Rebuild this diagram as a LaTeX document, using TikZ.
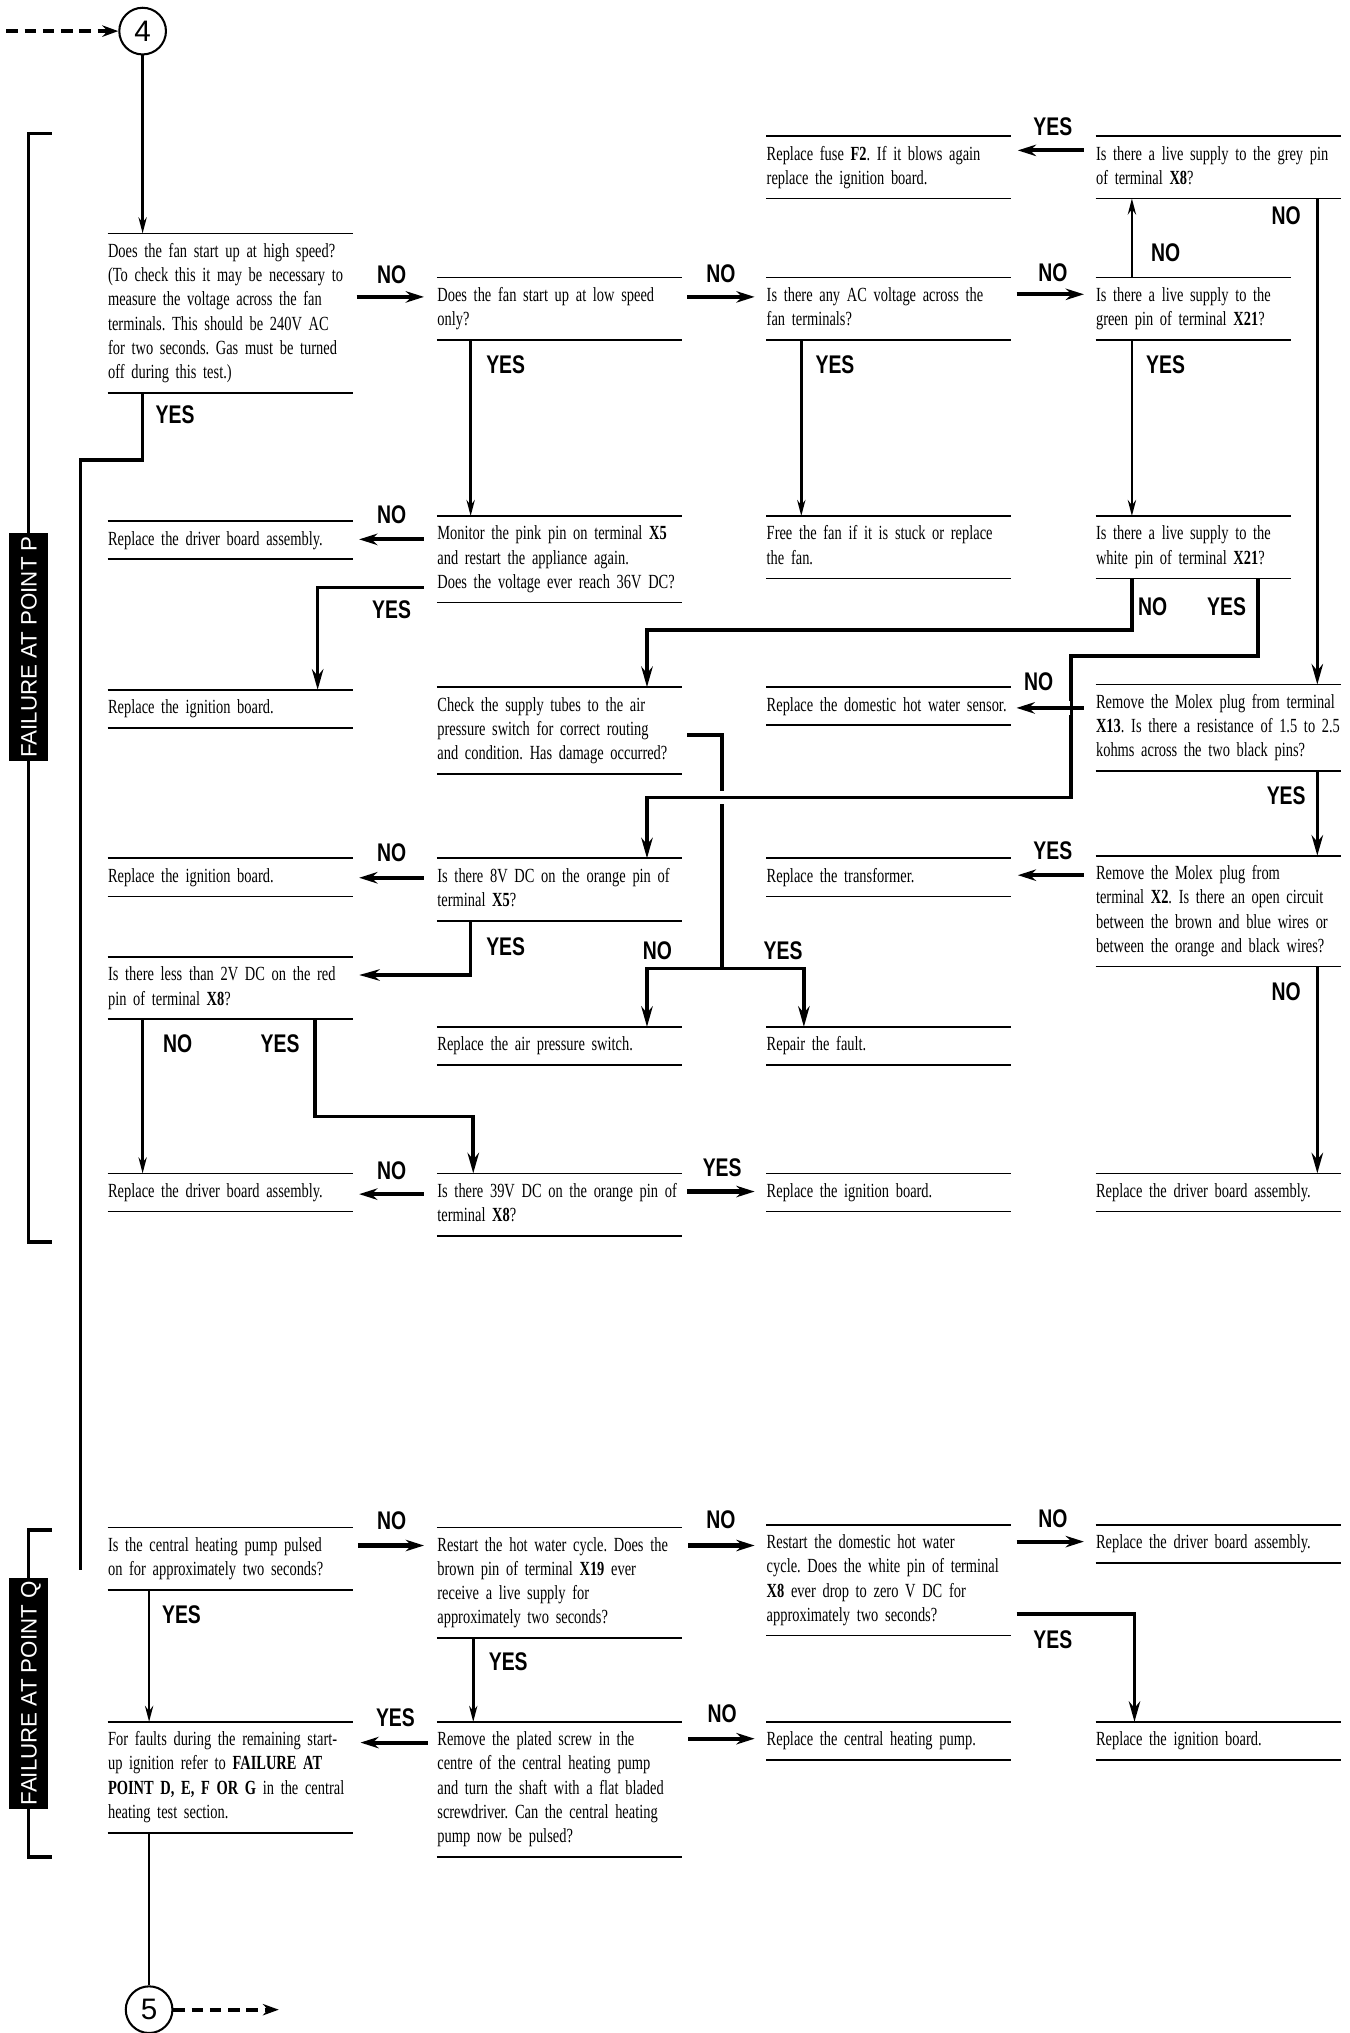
\documentclass[tikz,border=0pt]{standalone}
\usepackage{fontspec}
\setmainfont{Liberation Serif}[FakeStretch=0.72]
\newfontfamily\ynfam{Liberation Sans}[FakeStretch=0.76]
\newfontfamily\sansfam{Liberation Sans}
\usetikzlibrary{arrows.meta}
\newcommand\bodyfont{\fontsize{8.8}{10.64}\selectfont\frenchspacing}
\newcommand\ynfont{\ynfam\bfseries\fontsize{11.2}{12}\selectfont}
\newcommand\tagfont{\sansfam\fontsize{9.8}{10}\selectfont}
\newcommand\numfont{\sansfam\fontsize{13}{14}\selectfont}
\begin{document}
\begin{tikzpicture}[line join=miter,
  box/.style={anchor=north west,align=left,text width=4.6cm,inner xsep=0pt,inner ysep=0.1cm,
    font=\bodyfont,execute at begin node=\noindent\strut,execute at end node=\strut},
  yn/.style={font=\ynfont,inner sep=0pt},
  tag/.style={fill=black,text=white,rotate=90,font=\tagfont,inner xsep=1.5pt,inner ysep=5pt,
    text height=7pt,text depth=0pt},
  numc/.style={circle,draw,line width=0.9pt,minimum size=0.72cm,inner sep=0pt,font=\numfont},
  rule/.style={line width=0.75pt},
  down/.style={line width=1.1pt,-{Stealth[length=7pt,width=3.6pt]}},
  harrow/.style={line width=1.8pt,-{Stealth[length=8pt,width=5pt]}},
  route/.style={line width=1.6pt},
  routearrow/.style={route,-{Stealth[length=9pt,width=5pt]}},
  dasharrow/.style={line width=1.6pt,dash pattern=on 5pt off 3pt,-{Stealth[length=7pt,width=5pt]}},
  gap/.style={preaction={draw=white,line width=6pt,-,shorten <=6pt,shorten >=12pt}}]
  \useasboundingbox (0,0) rectangle (20.82,-31.36);

  \node[numc] (n4) at (2.20,-0.48) {4};
  \node[numc] (n5) at (2.30,-31.00) {5};
  \coordinate (in4) at (0.10,-0.48);
  \coordinate (out5) at (4.30,-31.00);
  \coordinate (spine) at (1.24,-7.10);
  \coordinate (qend) at (1.24,-24.22);
  \coordinate (split) at (11.14,-14.94);

  \draw[route] (0.80,-2.06) -| (0.44,-19.16) -- (0.80,-19.16);
  \draw[route] (0.80,-23.60) -| (0.44,-28.64) -- (0.80,-28.64);
  \node[tag] (tagp) at (0.44,-9.98) {FAILURE AT POINT P};
  \node[tag] (tagq) at (0.44,-26.12) {FAILURE AT POINT Q};

  \node[box] (grey) at (16.90,-2.10) {Is there a live supply to the grey pin\\of terminal \textbf{X8}?};
  \node[box] (fuse) at (11.82,-2.10) {Replace fuse \textbf{F2}. If it blows again\\replace the ignition board.};
  \node[box] (fanhigh) at (1.66,-3.60) {Does the fan start up at high speed?\\(To check this it may be necessary to\\measure the voltage across the fan\\terminals. This should be 240V AC\\for two seconds. Gas must be turned\\off during this test.)};
  \node[box] (fanlow) at (6.74,-4.28) {Does the fan start up at low speed\\only?};
  \node[box] (acvolt) at (11.82,-4.28) {Is there any AC voltage across the\\fan terminals?};
  \node[box] (green) at (16.90,-4.28) {Is there a live supply to the\\green pin of terminal \textbf{X21}?};
  \node[box] (driverA) at (1.66,-8.04) {Replace the driver board assembly.};
  \node[box] (monitor) at (6.74,-7.96) {Monitor the pink pin on terminal \textbf{X5}\\and restart the appliance again.\\Does the voltage ever reach 36V DC?};
  \node[box] (freefan) at (11.82,-7.96) {Free the fan if it is stuck or replace\\the fan.};
  \node[box] (white) at (16.90,-7.96) {Is there a live supply to the\\white pin of terminal \textbf{X21}?};
  \node[box] (ignA) at (1.66,-10.64) {Replace the ignition board.};
  \node[box] (tubes) at (6.74,-10.60) {Check the supply tubes to the air\\pressure switch for correct routing\\and condition. Has damage occurred?};
  \node[box] (sensor) at (11.82,-10.60) {Replace the domestic hot water sensor.};
  \node[box] (molexA) at (16.90,-10.56) {Remove the Molex plug from terminal\\\textbf{X13}. Is there a resistance of 1.5 to 2.5\\kohms across the two black pins?};
  \node[box] (ignB) at (1.66,-13.24) {Replace the ignition board.};
  \node[box] (orange) at (6.74,-13.24) {Is there 8V DC on the orange pin of\\terminal \textbf{X5}?};
  \node[box] (transf) at (11.82,-13.24) {Replace the transformer.};
  \node[box] (molexB) at (16.90,-13.20) {Remove the Molex plug from\\terminal \textbf{X2}. Is there an open circuit\\between the brown and blue wires or\\between the orange and black wires?};
  \node[box] (red) at (1.66,-14.76) {Is there less than 2V DC on the red\\pin of terminal \textbf{X8}?};
  \node[box] (apswitch) at (6.74,-15.84) {Replace the air pressure switch.};
  \node[box] (repair) at (11.82,-15.84) {Repair the fault.};
  \node[box] (driverB) at (1.66,-18.10) {Replace the driver board assembly.};
  \node[box] (volt39) at (6.74,-18.10) {Is there 39V DC on the orange pin of\\terminal \textbf{X8}?};
  \node[box] (ignC) at (11.82,-18.10) {Replace the ignition board.};
  \node[box] (driverC) at (16.90,-18.10) {Replace the driver board assembly.};

  \node[box] (pump) at (1.66,-23.56) {Is the central heating pump pulsed\\on for approximately two seconds?};
  \node[box] (hotwater) at (6.74,-23.56) {Restart the hot water cycle. Does the\\brown pin of terminal \textbf{X19} ever\\receive a live supply for\\approximately two seconds?};
  \node[box] (dhw) at (11.82,-23.52) {Restart the domestic hot water\\cycle. Does the white pin of terminal\\\textbf{X8} ever drop to zero V DC for\\approximately two seconds?};
  \node[box] (driverQ) at (16.90,-23.52) {Replace the driver board assembly.};
  \node[box] (faults) at (1.66,-26.56) {For faults during the remaining start-\\up ignition refer to \textbf{FAILURE AT}\\\textbf{POINT D, E, F OR G} in the central\\heating test section.};
  \node[box] (screw) at (6.74,-26.56) {Remove the plated screw in the\\centre of the central heating pump\\and turn the shaft with a flat bladed\\screwdriver. Can the central heating\\pump now be pulsed?};
  \node[box] (pumprep) at (11.82,-26.56) {Replace the central heating pump.};
  \node[box] (ignQ) at (16.90,-26.56) {Replace the ignition board.};

  \foreach \n/\w in {grey/3.78,fuse/3.78,fanhigh/3.78,fanlow/3.78,acvolt/3.78,green/3.02,
    driverA/3.78,monitor/3.78,freefan/3.78,white/3.02,ignA/3.78,tubes/3.78,sensor/3.78,
    molexA/3.78,ignB/3.78,orange/3.78,transf/3.78,molexB/3.78,red/3.78,apswitch/3.78,
    repair/3.78,driverB/3.78,volt39/3.78,ignC/3.78,driverC/3.78,pump/3.78,hotwater/3.78,
    dhw/3.78,driverQ/3.78,faults/3.78,screw/3.78,pumprep/3.78,ignQ/3.78}
    \draw[rule] (\n.north west) -- ++(\w,0) (\n.south west) -- ++(\w,0);

  \draw[dasharrow] (in4) -- (n4.west);
  \draw[down] (n4.south) -- (n4 |- fanhigh.north);
  \draw[route] (n4 |- fanhigh.south) |- (spine) -- (qend);
  \draw[harrow] ([xshift=3.84cm,yshift=-0.30cm]fanhigh.north west |- fanlow.north) -- ([xshift=-0.20cm,yshift=-0.30cm]fanlow.north west);
  \draw[harrow] ([xshift=3.86cm,yshift=-0.30cm]fanlow.north west) -- ([xshift=-0.18cm,yshift=-0.30cm]acvolt.north west);
  \draw[harrow] ([xshift=3.86cm,yshift=-0.26cm]acvolt.north west) -- ([xshift=-0.18cm,yshift=-0.26cm]green.north west);
  \draw[down] ([xshift=0.56cm]green.north west) -- ([xshift=0.56cm]grey.south west);
  \draw[harrow] ([xshift=-0.18cm,yshift=-0.22cm]grey.north west) -- ([xshift=3.88cm,yshift=-0.22cm]fuse.north west);
  \draw[routearrow] ([xshift=3.42cm]grey.south west) -- ([xshift=3.42cm]molexA.north west);
  \draw[down] ([xshift=0.52cm]fanlow.south west) -- ([xshift=0.52cm]monitor.north west);
  \draw[down] ([xshift=0.54cm]acvolt.south west) -- ([xshift=0.54cm]freefan.north west);
  \draw[down] ([xshift=0.56cm]green.south west) -- ([xshift=0.56cm]white.north west);
  \draw[harrow] ([xshift=-0.20cm,yshift=-0.28cm]monitor.north west |- driverA.north) -- ([xshift=3.88cm,yshift=-0.28cm]driverA.north west);
  \draw[routearrow] ([xshift=-0.20cm,yshift=-1.10cm]monitor.north west) -| ([xshift=3.24cm]ignA.north west);
  \draw[routearrow] ([xshift=0.56cm]white.south west) -- ++(0,-0.80) -| ([xshift=3.24cm]tubes.north west);
  \draw[routearrow] ([xshift=3.86cm,yshift=-0.74cm]tubes.north west) -| (split) -| ([xshift=3.24cm]apswitch.north west);
  \draw[routearrow] (split) -| ([xshift=0.58cm]repair.north west);
  \draw[routearrow,gap] ([xshift=2.50cm]white.south west) -- ++(0,-1.20) -| ([xshift=-0.38cm,yshift=-1.74cm]molexA.north west) -| ([xshift=3.24cm]orange.north west);
  \draw[harrow,gap] ([xshift=-0.18cm,yshift=-0.32cm]molexA.north west |- sensor.north) -- ([xshift=3.86cm,yshift=-0.32cm]sensor.north west);
  \draw[routearrow] ([xshift=3.42cm]molexA.south west) -- ([xshift=3.42cm]molexB.north west);
  \draw[harrow] ([xshift=-0.18cm,yshift=-0.26cm]molexB.north west |- transf.north) -- ([xshift=3.88cm,yshift=-0.26cm]transf.north west);
  \draw[routearrow] ([xshift=3.42cm]molexB.south west) -- ([xshift=3.42cm]driverC.north west);
  \draw[harrow] ([xshift=-0.20cm,yshift=-0.30cm]orange.north west) -- ([xshift=3.88cm,yshift=-0.30cm]ignB.north west);
  \draw[routearrow] ([xshift=0.52cm]orange.south west) |- ([xshift=3.88cm,yshift=-0.28cm]red.north west);
  \draw[down] ([xshift=0.54cm]red.south west) -- ([xshift=0.54cm]driverB.north west);
  \draw[routearrow] ([xshift=3.20cm]red.south west) -- ++(0,-1.50) -| ([xshift=0.56cm]volt39.north west);
  \draw[harrow] ([xshift=-0.20cm,yshift=-0.32cm]volt39.north west) -- ([xshift=3.88cm,yshift=-0.32cm]driverB.north west);
  \draw[harrow] ([xshift=3.86cm,yshift=-0.28cm]volt39.north west) -- ([xshift=-0.18cm,yshift=-0.28cm]ignC.north west);

  \draw[harrow] ([xshift=3.86cm,yshift=-0.28cm]pump.north west) -- ([xshift=-0.20cm,yshift=-0.28cm]hotwater.north west);
  \draw[harrow] ([xshift=3.88cm,yshift=-0.32cm]hotwater.north west |- dhw.north) -- ([xshift=-0.18cm,yshift=-0.32cm]dhw.north west);
  \draw[harrow] ([xshift=3.86cm,yshift=-0.26cm]dhw.north west) -- ([xshift=-0.18cm,yshift=-0.26cm]driverQ.north west);
  \draw[routearrow] ([xshift=3.86cm,yshift=-1.38cm]dhw.north west) -| ([xshift=0.60cm]ignQ.north west);
  \draw[down] ([xshift=0.64cm]pump.south west) -- ([xshift=0.64cm]faults.north west);
  \draw[down] ([xshift=0.56cm]hotwater.south west) -- ([xshift=0.56cm]screw.north west);
  \draw[harrow] ([xshift=-0.14cm,yshift=-0.32cm]screw.north west) -- ([xshift=3.90cm,yshift=-0.32cm]faults.north west);
  \draw[harrow] ([xshift=3.88cm,yshift=-0.26cm]screw.north west) -- ([xshift=-0.18cm,yshift=-0.26cm]pumprep.north west);
  \draw[line width=1.2pt] (n5 |- faults.south) -- (n5.north);
  \draw[dasharrow] (n5.east) -- (out5);

  \node[yn] (no1) at (6.04,-4.24) {NO};
  \node[yn] (no2) at (11.12,-4.22) {NO};
  \node[yn] (no3) at (16.24,-4.20) {NO};
  \node[yn] (no4) at (17.98,-3.90) {NO};
  \node[yn] (yes1) at (16.24,-1.96) {YES};
  \node[yn] (no5) at (19.84,-3.32) {NO};
  \node[yn] (yes2) at (2.70,-6.40) {YES};
  \node[yn] (yes3) at (7.80,-5.62) {YES};
  \node[yn] (yes4) at (12.88,-5.62) {YES};
  \node[yn] (yes5) at (17.98,-5.62) {YES};
  \node[yn] (no6) at (6.04,-7.94) {NO};
  \node[yn] (yes6) at (6.04,-9.40) {YES};
  \node[yn] (no7) at (17.78,-9.36) {NO};
  \node[yn] (yes7) at (18.92,-9.36) {YES};
  \node[yn] (no8) at (16.02,-10.52) {NO};
  \node[yn] (yes8) at (19.84,-12.28) {YES};
  \node[yn] (yes9) at (16.24,-13.12) {YES};
  \node[yn] (no9) at (6.04,-13.16) {NO};
  \node[yn] (yes10) at (7.80,-14.60) {YES};
  \node[yn] (no10) at (10.14,-14.66) {NO};
  \node[yn] (yes11) at (12.08,-14.66) {YES};
  \node[yn] (no11) at (19.84,-15.30) {NO};
  \node[yn] (no12) at (2.74,-16.10) {NO};
  \node[yn] (yes12) at (4.32,-16.10) {YES};
  \node[yn] (no13) at (6.04,-18.06) {NO};
  \node[yn] (yes13) at (11.14,-18.02) {YES};
  \node[yn] (no14) at (6.04,-23.46) {NO};
  \node[yn] (no15) at (11.12,-23.44) {NO};
  \node[yn] (no16) at (16.24,-23.42) {NO};
  \node[yn] (yes14) at (2.80,-24.90) {YES};
  \node[yn] (yes15) at (7.84,-25.64) {YES};
  \node[yn] (yes16) at (16.24,-25.30) {YES};
  \node[yn] (yes17) at (6.10,-26.50) {YES};
  \node[yn] (no17) at (11.14,-26.44) {NO};
\end{tikzpicture}
\end{document}
